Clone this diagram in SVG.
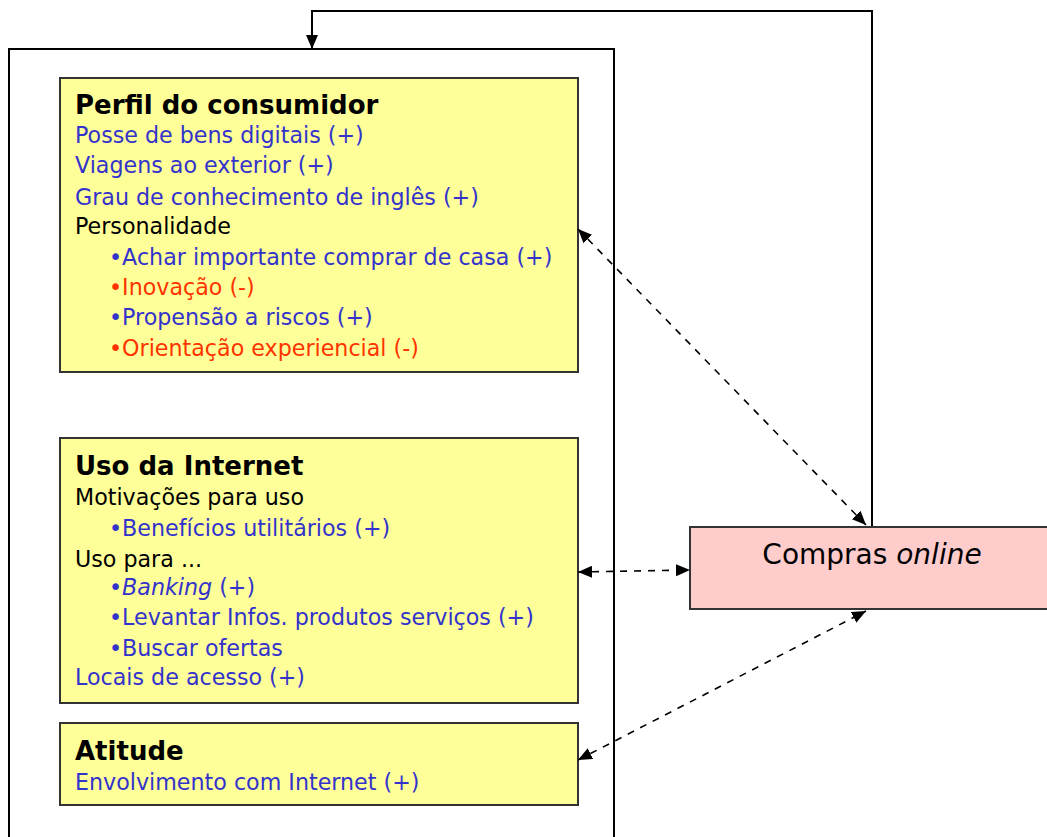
<svg xmlns="http://www.w3.org/2000/svg" width="1047" height="837" viewBox="0 0 1047 837">
<style>
.box{fill:#FFFF99;stroke:#333;stroke-width:2}
.pink{fill:#FFCCCC;stroke:#333;stroke-width:2}
.t{font-family:"DejaVu Sans",Verdana,sans-serif;font-size:22.2px}
.h{font-family:"DejaVu Sans",Verdana,sans-serif;font-size:26px;font-weight:bold;fill:#000}
.k{fill:#000}.b{fill:#3333CC}.r{fill:#FF3300}
.dash{fill:none;stroke:#000;stroke-width:1.6;stroke-dasharray:7 7}
.solid{fill:none;stroke:#000;stroke-width:2}
</style>
<defs>
<marker id="ah" viewBox="0 0 14 12" refX="14" refY="6" markerWidth="14" markerHeight="12" markerUnits="userSpaceOnUse" orient="auto-start-reverse">
<path d="M0,0 L14,6 L0,12 Z" fill="#000"/>
</marker>
</defs>
<rect width="1047" height="837" fill="#fff"/>
<g id="frame"><path class="solid" d="M9,840 V49 H614 V840"/></g>
<g id="perfil">
<rect class="box" x="60" y="78" width="518" height="294"/>
<text class="h" x="75" y="114">Perfil do consumidor</text>
<text class="t b" x="75" y="143">Posse de bens digitais (+)</text>
<text class="t b" x="75" y="173">Viagens ao exterior (+)</text>
<text class="t b" x="75" y="205">Grau de conhecimento de inglês (+)</text>
<text class="t k" x="75" y="234">Personalidade</text>
<text class="t b" x="109" y="265">•Achar importante comprar de casa (+)</text>
<text class="t r" x="109" y="295">•Inovação (-)</text>
<text class="t b" x="109" y="325">•Propensão a riscos (+)</text>
<text class="t r" x="109" y="356">•Orientação experiencial (-)</text>
</g>
<g id="uso">
<rect class="box" x="60" y="438" width="518" height="265"/>
<text class="h" x="75" y="475">Uso da Internet</text>
<text class="t k" x="75" y="505">Motivações para uso</text>
<text class="t b" x="109" y="536">•Benefícios utilitários (+)</text>
<text class="t k" x="75" y="567">Uso para ...</text>
<text class="t b" x="109" y="595">•<tspan font-style="italic">Banking</tspan> (+)</text>
<text class="t b" x="109" y="625">•Levantar Infos. produtos serviços (+)</text>
<text class="t b" x="109" y="656">•Buscar ofertas</text>
<text class="t b" x="75" y="685">Locais de acesso (+)</text>
</g>
<g id="atitude">
<rect class="box" x="60" y="723" width="518" height="82"/>
<text class="h" x="75" y="760">Atitude</text>
<text class="t b" x="75" y="790">Envolvimento com Internet (+)</text>
</g>
<g id="compras">
<rect class="pink" x="690" y="527" width="370" height="82"/>
<text x="872" y="564" text-anchor="middle" font-family="DejaVu Sans,Verdana,sans-serif" font-size="28" fill="#000">Compras <tspan font-style="italic">online</tspan></text>
</g>
<g id="connectors">
<path class="solid" d="M872,526 V11 H312 V49" marker-end="url(#ah)"/>
<path class="dash" d="M578,229 L866,525" marker-start="url(#ah)" marker-end="url(#ah)"/>
<path class="dash" d="M578,572 L690,570" marker-start="url(#ah)" marker-end="url(#ah)"/>
<path class="dash" d="M578,760 L866,611" marker-start="url(#ah)" marker-end="url(#ah)"/>
</g>
</svg>
